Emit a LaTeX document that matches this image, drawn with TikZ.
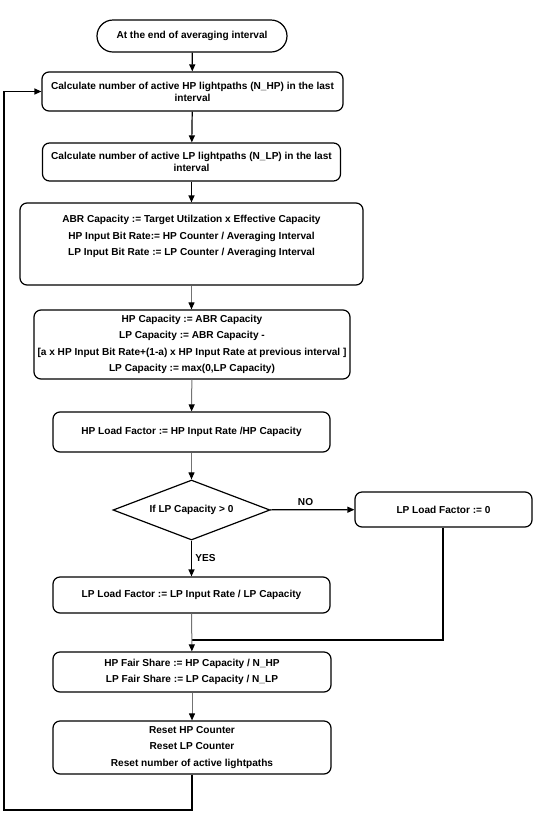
\documentclass[tikz,border=0pt]{standalone}
\usepackage{fontspec}
\setmainfont{Liberation Sans}
\usetikzlibrary{shapes.geometric,arrows.meta}
\begin{document}
\begin{tikzpicture}[x=1pt,y=-1pt]
 \tikzset{directed/.style={-{Triangle[length=7pt,width=6pt,color=black]}},
  box/.style={draw, rounded corners=7pt, line width=1.2pt, align=center, inner sep=0pt,
   font=\fontsize{10.1}{16.5}\selectfont\bfseries},
  tight/.style={font=\fontsize{10.1}{12}\selectfont\bfseries},
  link/.style={line width=1.2pt, directed},
  greylink/.style={line width=1pt, draw=black!55, directed}}
  \useasboundingbox (0,0) rectangle (535,823);
  \node[box, rounded corners=16pt, minimum width=190pt, minimum height=32pt] (Start) at (192,36) {At the end of averaging interval};
  \node[box, tight, minimum width=301pt, minimum height=39pt] (CalcHP) at (192.5,91.5) {Calculate number of active HP lightpaths (N\_HP) in the last\\interval};
  \node[box, tight, minimum width=298pt, minimum height=38pt] (CalcLP) at (191.5,162) {Calculate number of active LP lightpaths (N\_LP) in the last\\interval};
  \node[box, minimum width=343pt, minimum height=82pt] (ABR) at (191.5,244) {ABR Capacity := Target Utilzation x Effective Capacity\\HP Input Bit Rate:= HP Counter / Averaging Interval\\LP Input Bit Rate := LP Counter / Averaging Interval\\\mbox{}};
  \node[box, minimum width=316pt, minimum height=69pt] (HPCap) at (192,344.5) {HP Capacity := ABR Capacity\\LP Capacity := ABR Capacity -\\{}[a x HP Input Bit Rate+(1-a) x HP Input Rate at previous interval ]\\LP Capacity := max(0,LP Capacity)};
  \node[box, minimum width=277pt, minimum height=40pt] (HPLoad) at (191.5,432) {HP Load Factor := HP Input Rate /HP Capacity};
  \node[box, diamond, rounded corners=0pt, aspect=2.6, minimum width=157pt, minimum height=60pt] (Dec) at (191.5,510) {If LP Capacity > 0};
  \node[box, minimum width=177pt, minimum height=35pt] (LPZero) at (443.5,509.5) {LP Load Factor := 0};
  \node[box, minimum width=277pt, minimum height=36pt] (LPLoad) at (191.5,595) {LP Load Factor := LP Input Rate / LP Capacity};
  \node[box, minimum width=278pt, minimum height=40pt] (Fair) at (192,672) {HP Fair Share := HP Capacity / N\_HP\\LP Fair Share := LP Capacity / N\_LP};
  \node[box, minimum width=278pt, minimum height=53pt] (Reset) at (192,747.5) {Reset HP Counter\\Reset LP Counter\\Reset number of active lightpaths};
  \coordinate (M1) at (443,640);
  \coordinate (M2) at (192,640);
  \coordinate (L1) at (192,810);
  \coordinate (L2) at (4,810);
  \coordinate (L3) at (4,91.5);
  \draw[link] (Start) -- (CalcHP);
  \draw[link] (CalcHP) -- (CalcLP);
  \draw[link] (CalcLP.south) -- (CalcLP.south |- ABR.north);
  \draw[greylink] (ABR.south) -- (ABR.south |- HPCap.north);
  \draw[greylink] (HPCap) -- (HPLoad);
  \draw[greylink] (HPLoad) -- (Dec);
  \draw[link] (Dec) -- node[pos=0.42, above, font=\fontsize{10.1}{10}\selectfont\bfseries] {NO}(LPZero);
  \draw[link] (Dec) -- node[right, font=\fontsize{10.1}{10}\selectfont\bfseries] {YES}(LPLoad);
  \draw[line width=1.2pt] (LPZero.south -| M1) -- (M1) -- (M2);
  \draw[greylink] (LPLoad) -- (Fair);
  \draw[greylink] (Fair) -- (Reset);
  \draw[link] (Reset.south -| L1) -- (L1) -- (L2) -- (L3) -- (CalcHP.west);
\end{tikzpicture}
\end{document}
